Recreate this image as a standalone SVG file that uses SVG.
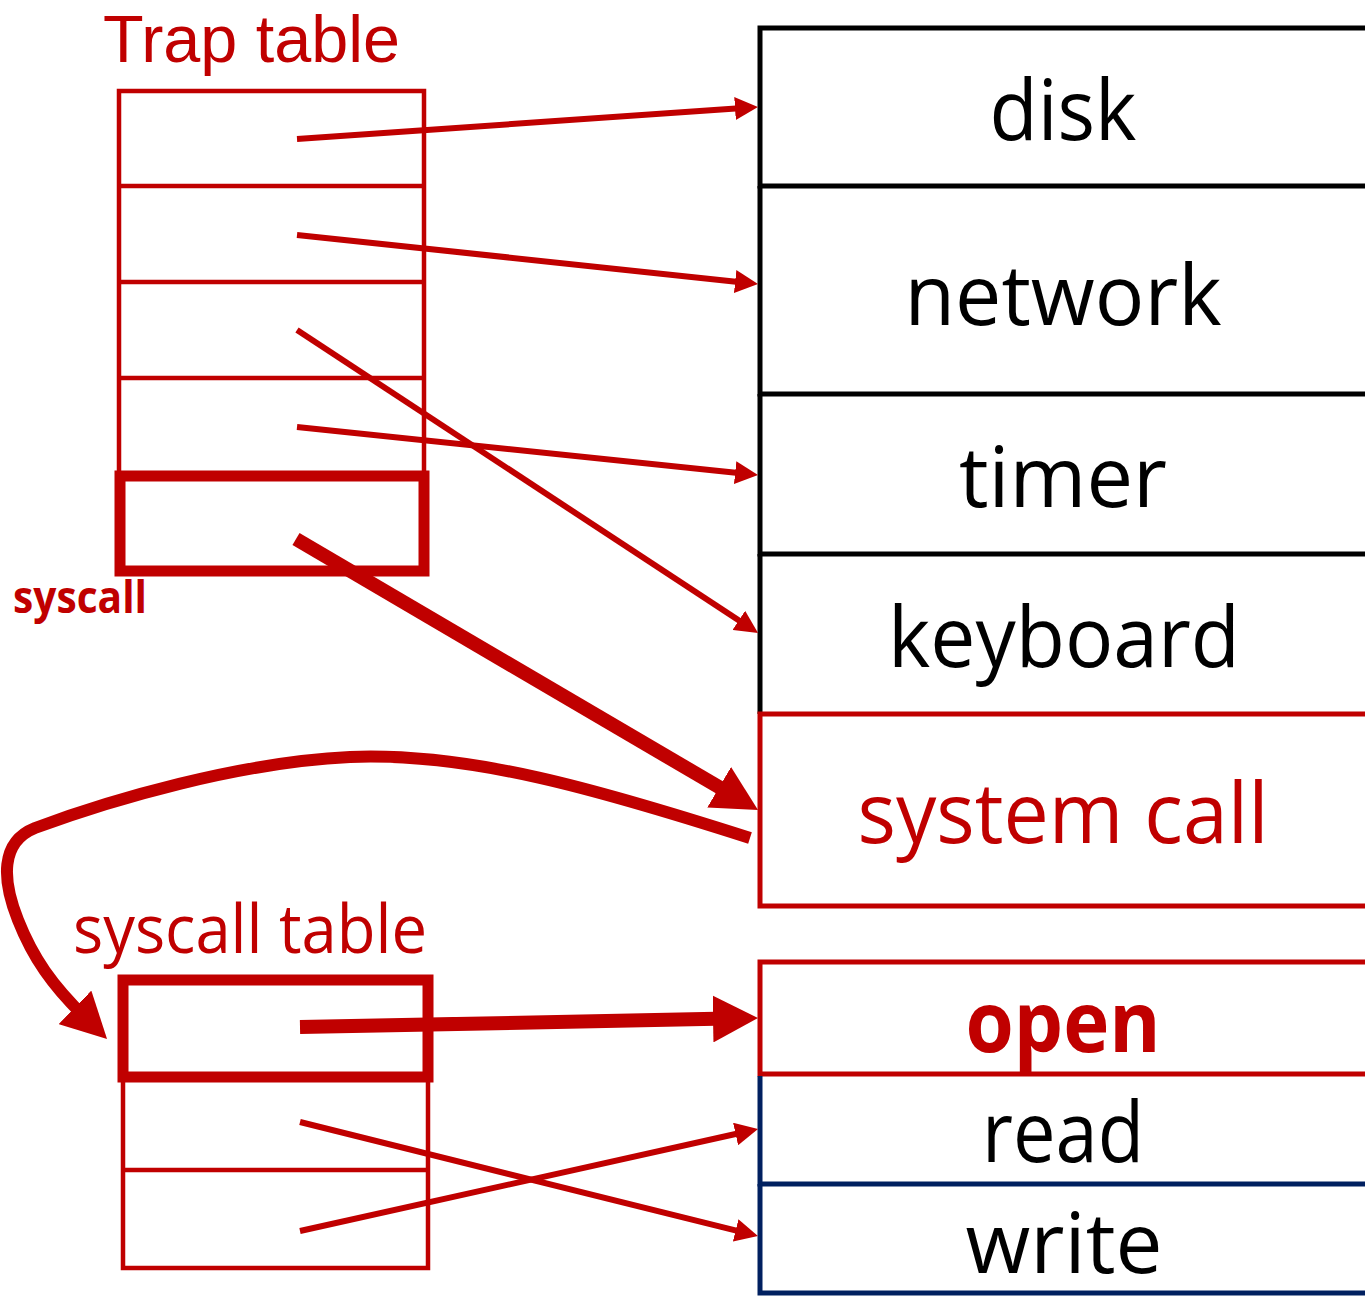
<svg xmlns="http://www.w3.org/2000/svg" width="1365" height="1296" viewBox="0 0 1365 1296">
<style>
  .lbl { font-family: "Open Sans", "Liberation Sans", sans-serif; font-size: 84px; text-anchor: middle; fill: #000; }
  .red { fill: #C00000; }
  .bx { fill: none; stroke-width: 5; }
  .k { stroke: #000; }
  .r { stroke: #C00000; }
  .n { stroke: #002060; }
  .thin { fill: none; stroke: #C00000; stroke-width: 4.5; }
  .thick { fill: none; stroke: #C00000; stroke-width: 11; }
  .arr { fill: none; stroke: #C00000; stroke-width: 6; marker-end: url(#ah); }
  .arrT { fill: none; stroke: #C00000; stroke-width: 14; marker-end: url(#ahT); }
  .curve { fill: none; stroke: #C00000; stroke-width: 12; marker-end: url(#ahT); }
</style>
<defs>
  <marker id="ah" viewBox="0 0 23 23" markerWidth="23" markerHeight="23" refX="8" refY="11.5" markerUnits="userSpaceOnUse" orient="auto">
    <path d="M0,0 L23,11.5 L0,23 z" fill="#C00000"/>
  </marker>
  <marker id="ahT" viewBox="0 0 45 47" markerWidth="45" markerHeight="47" refX="15" refY="23.5" markerUnits="userSpaceOnUse" orient="auto">
    <path d="M0,0 L45,23.5 L0,47 z" fill="#C00000"/>
  </marker>
</defs>
<rect width="1365" height="1296" fill="#fff"/>

<g id="trap-table">
  <rect class="thin" x="119" y="91" width="305" height="480"/>
  <line class="thin" x1="119" y1="186" x2="424" y2="186"/>
  <line class="thin" x1="119" y1="282" x2="424" y2="282"/>
  <line class="thin" x1="119" y1="378" x2="424" y2="378"/>
  <rect class="thick" x="120" y="476" width="304" height="95"/>
  <text class="lbl red" x="103" y="62" style="font-family:'Liberation Sans',Arial,sans-serif;font-size:67px;text-anchor:start" textLength="297" lengthAdjust="spacingAndGlyphs">Trap table</text>
  <text class="lbl red" x="13" y="613" style="font-size:44px;font-weight:bold;text-anchor:start" textLength="134" lengthAdjust="spacingAndGlyphs">syscall</text>
</g>

<g id="syscall-table">
  <rect class="thin" x="123" y="1077" width="305" height="191"/>
  <line class="thin" x1="123" y1="1170" x2="428" y2="1170"/>
  <rect class="thick" x="123" y="980" width="305" height="97"/>
  <text class="lbl red" x="73" y="953" style="font-size:67px;text-anchor:start" textLength="354" lengthAdjust="spacingAndGlyphs">syscall table</text>
</g>

<g id="handlers">
  <g id="disk">
    <path class="bx k" d="M1370,28 H760 V186 H1370"/>
    <text class="lbl" x="1063" y="140" textLength="147" lengthAdjust="spacingAndGlyphs">disk</text>
  </g>
  <g id="network">
    <path class="bx k" d="M760,186 V394 H1370"/>
    <text class="lbl" x="1063" y="325" textLength="317" lengthAdjust="spacingAndGlyphs">network</text>
  </g>
  <g id="timer">
    <path class="bx k" d="M760,394 V554 H1370"/>
    <text class="lbl" x="1063" y="507" textLength="208" lengthAdjust="spacingAndGlyphs">timer</text>
  </g>
  <g id="keyboard">
    <path class="bx k" d="M760,554 V714"/>
    <text class="lbl" x="1064" y="667" textLength="352" lengthAdjust="spacingAndGlyphs">keyboard</text>
  </g>
  <g id="system-call">
    <path class="bx r" d="M1370,714 H760 V906 H1370"/>
    <text class="lbl red" x="1063" y="843" textLength="411" lengthAdjust="spacingAndGlyphs">system call</text>
  </g>
</g>

<g id="syscalls">
  <g id="open">
    <path class="bx r" d="M1370,962 H760 V1074 H1370"/>
    <text class="lbl red" x="1063" y="1052" style="font-weight:bold" textLength="195" lengthAdjust="spacingAndGlyphs">open</text>
  </g>
  <g id="read">
    <path class="bx n" d="M760,1076 V1184 H1370"/>
    <text class="lbl" x="1063" y="1162" textLength="162" lengthAdjust="spacingAndGlyphs">read</text>
  </g>
  <g id="write">
    <path class="bx n" d="M760,1184 V1293 H1370"/>
    <text class="lbl" x="1064" y="1273" textLength="197" lengthAdjust="spacingAndGlyphs">write</text>
  </g>
</g>

<g id="connectors">
  <line class="arr" x1="297" y1="139" x2="743.0" y2="108.0"/>
  <line class="arr" x1="297" y1="235" x2="743.1" y2="282.4"/>
  <line class="arr" x1="297" y1="330" x2="745.5" y2="624.8"/>
  <line class="arr" x1="297" y1="427" x2="743.1" y2="473.4"/>
  <line class="arrT" x1="296" y1="539" x2="732.1" y2="794.8"/>
  <path class="curve" d="M750,838 C600,790 470,752 350,757 C240,762 110,800 35,828 C0,842 2,880 18,920 C33,958 52,985 85.6,1017.9"/>
  <line class="arrT" x1="300" y1="1027" x2="728.0" y2="1018.6"/>
  <line class="arr" x1="300" y1="1231" x2="743.4" y2="1132.3"/>
  <line class="arr" x1="300" y1="1122" x2="743.4" y2="1232.4"/>
</g>
</svg>
